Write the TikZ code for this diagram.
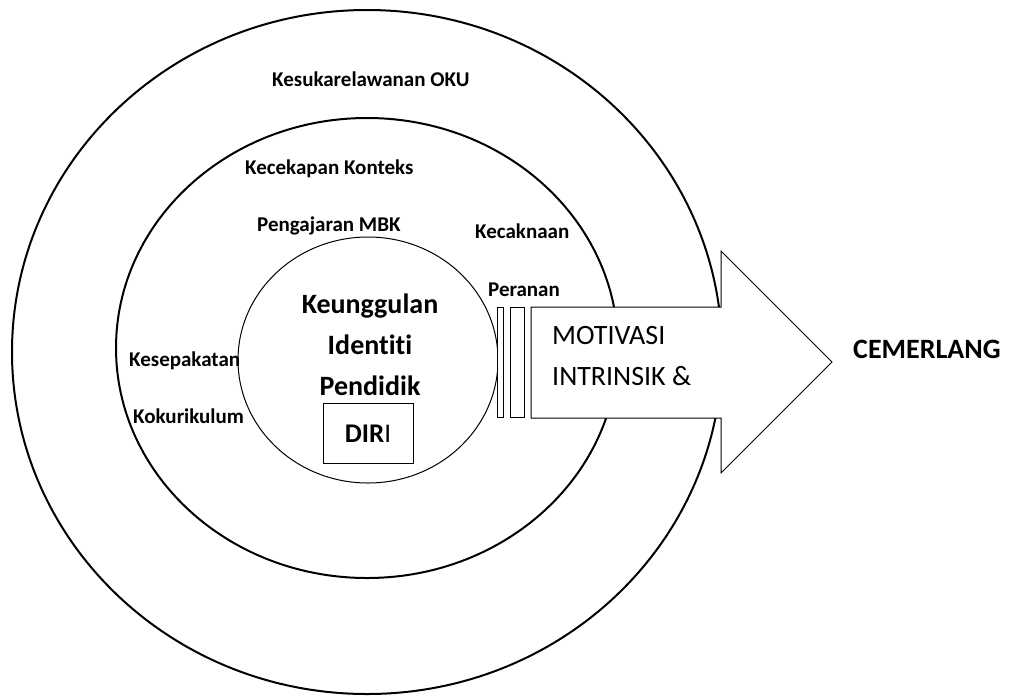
\documentclass[tikz,border=0pt]{standalone}
\usepackage{fontspec}
\setmainfont{Carlito}[RawFeature={-liga}]
\begin{document}
\begin{tikzpicture}[x=1pt,y=-1pt,
  ring/.style={draw=black,line width=2pt},
  thin/.style={draw=black,line width=1pt,fill=white},
  lbl/.style={font=\fontsize{21}{25}\selectfont\bfseries,anchor=base west,inner sep=0pt},
  core/.style={font=\fontsize{28}{32}\selectfont\bfseries,anchor=base,inner sep=0pt},
  mot/.style={font=\fontsize{28}{32}\selectfont,anchor=base west,inner sep=0pt}]
\useasboundingbox[fill=white] (0,0) rectangle (1022,697);
% rings
\draw[ring] (367,352) ellipse [x radius=355, y radius=342];
\draw[ring] (367,348) ellipse [x radius=251, y radius=230];
\draw[draw=black,line width=1pt] (368,360) ellipse [x radius=130, y radius=123];
% bars and arrow
\draw[thin] (497,307) rectangle (503,417);
\draw[thin] (510,307) rectangle (524,417);
\draw[thin] (531,307) -- (721,307) -- (721,251) -- (832,362) -- (721,473) -- (721,418) -- (531,418) -- cycle;
% DIRI box
\node[draw=black,line width=1pt,minimum width=90pt,minimum height=60pt,inner sep=0pt] (diribox) at (368,433) {};
\node[core,font=\fontsize{27}{30}\selectfont] (diri) at (368,442) {\textbf{DIR}I};
% labels
\node[lbl] (oku) at (272,86) {Kesukarelawanan OKU};
\node[lbl] (konteks) at (245,174) {Kecekapan Konteks};
\node[lbl] (mbk) at (257,231) {Pengajaran MBK};
\node[lbl] (kecaknaan) at (475,238) {Kecaknaan};
\node[lbl] (peranan) at (488,296) {Peranan};
\node[lbl] (kesepakatan) at (129,366) {Kesepakatan};
\node[lbl] (koku) at (133,423) {Kokurikulum};
\node[core] (keung) at (370,313) {Keunggulan};
\node[core] (ident) at (370,354) {Identiti};
\node[core] (pend) at (370,395) {Pendidik};
\node[mot] (motiv) at (552,344) {MOTIVASI};
\node[mot] (intr) at (552,385) {INTRINSIK \&};
\node[lbl,font=\fontsize{28}{32}\selectfont\bfseries] (cem) at (853,358) {CEMERLANG};
\end{tikzpicture}
\end{document}
